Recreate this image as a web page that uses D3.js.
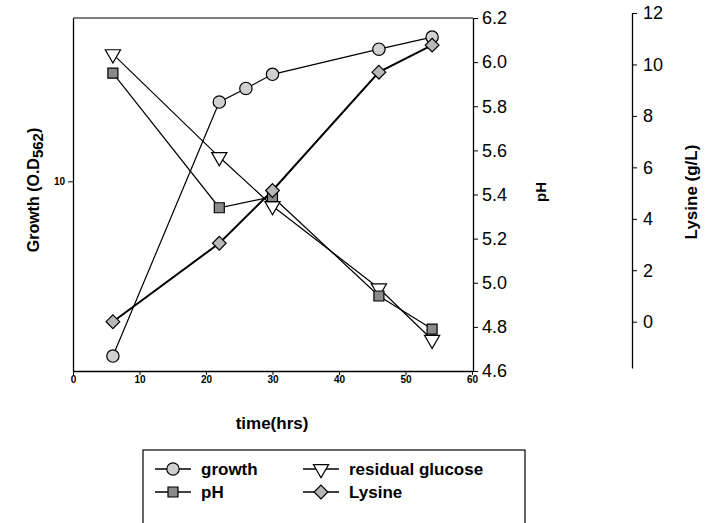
<!DOCTYPE html>
<html><head><meta charset="utf-8">
<script src="https://cdn.jsdelivr.net/npm/d3@7"></script>
<style>
body{margin:0;background:#fff}
text{font-family:"Liberation Sans",Arial,Helvetica,sans-serif;fill:#000}
</style>
</head><body>
<svg id="c" width="705" height="523"></svg>
<script>
// ---- data ----
const growthTime = [6, 22, 26, 30, 46, 54];
const growth     = [2.27, 19.6, 22.0, 24.8, 30.7, 34.0];   // O.D562 (log axis)
const pHTime     = [6, 22, 30, 46, 54];
const pHValues   = [5.95, 5.34, 5.39, 4.94, 4.79];
const glucoseTime= [6, 22, 30, 46, 54];
const glucose    = [10.4, 6.4, 4.5, 1.3, -0.7];             // plotted against g/L axis
const lysineTime = [6, 22, 30, 46, 54];
const lysine     = [0.0, 3.05, 5.1, 9.7, 10.75];            // g/L
const xTicks      = [0, 10, 20, 30, 40, 50, 60];
const growthTicks = [10];
const pHTicks     = [4.6, 4.8, 5.0, 5.2, 5.4, 5.6, 5.8, 6.0, 6.2];
const lysineTicks = [0, 2, 4, 6, 8, 10, 12];
const legendLabels = ["growth", "residual glucose", "pH", "Lysine"];

const svg = d3.select("#c");
const L = 73, R = 473, T = 18, B = 371;

const x   = d3.scaleLinear().domain([0, 60]).range([L, R - 1]);
const yG  = d3.scaleLog().domain([2, 40]).range([B, T]);
const yPH = d3.scaleLinear().domain([4.6, 6.2]).range([B, T]);
const yL  = d3.scaleLinear().domain([-1.8, 12]).range([368, 13]);

// frame top
svg.append("line").attr("x1", L).attr("x2", R).attr("y1", T).attr("y2", T)
  .attr("stroke", "#000").attr("stroke-width", 1.2);

function styleAxis(g, fs, bold) {
  g.selectAll("path").attr("stroke", "#000").attr("stroke-width", 1.3);
  g.selectAll("line").attr("stroke", "#000").attr("stroke-width", 1);
  g.selectAll("text").attr("font-size", fs).attr("font-weight", bold ? "bold" : "normal")
    .attr("fill", "#000").attr("font-family", '"Liberation Sans",Arial,sans-serif');
}

// x axis
const gx = svg.append("g").attr("transform", `translate(0,${B})`)
  .call(d3.axisBottom(x).tickValues(xTicks).tickFormat(d3.format("d")).tickSize(4).tickSizeOuter(0).tickPadding(1));
styleAxis(gx, 10, true);

// left log axis
const gy = svg.append("g").attr("transform", `translate(${L},0)`)
  .call(d3.axisLeft(yG).tickValues(growthTicks).tickFormat(d3.format("d")).tickSize(5).tickSizeOuter(0).tickPadding(3));
styleAxis(gy, 10, true);

// pH axis
const gp = svg.append("g").attr("transform", `translate(${R},0)`)
  .call(d3.axisRight(yPH).tickValues(pHTicks).tickFormat(d3.format(".1f")).tickSize(5).tickSizeOuter(0).tickPadding(4));
styleAxis(gp, 18, false);

// lysine axis
const gl = svg.append("g").attr("transform", `translate(632,0)`)
  .call(d3.axisRight(yL).tickValues(lysineTicks).tickFormat(d3.format("d")).tickSize(5).tickSizeOuter(0).tickPadding(6));
styleAxis(gl, 18, false);

// axis titles
const gt = svg.append("text").attr("transform", "translate(39,190) rotate(-90)")
  .attr("text-anchor", "middle").attr("font-size", 16).attr("font-weight", "bold");
gt.append("tspan").text("Growth (O.D");
gt.append("tspan").attr("dy", 4).attr("font-size", 15).text("562");
gt.append("tspan").attr("dy", -4).text(")");

svg.append("text").attr("transform", "translate(546,192) rotate(-90)")
  .attr("text-anchor", "middle").attr("font-size", 15).attr("font-weight", "bold").text("pH");
svg.append("text").attr("transform", "translate(697,192) rotate(-90)")
  .attr("text-anchor", "middle").attr("font-size", 17).attr("font-weight", "bold").text("Lysine (g/L)");
svg.append("text").attr("x", 272).attr("y", 429)
  .attr("text-anchor", "middle").attr("font-size", 17).attr("font-weight", "bold").text("time(hrs)");

// symbols
const sym = {
  circle:  d3.symbol().type(d3.symbolCircle).size(120),
  square:  d3.symbol().type(d3.symbolSquare).size(100),
  diamond: d3.symbol().type(d3.symbolDiamond2 || d3.symbolDiamond).size(120),
  triangle: d3.symbol().type(d3.symbolTriangle).size(100)
};
const series = [
  {t: growthTime, v: growth, y: yG, s: "circle", fill: "#d0d0d0", rot: 0, w: 1.2},
  {t: glucoseTime, v: glucose, y: yL, s: "triangle", fill: "#fff", rot: 180, w: 1.2},
  {t: pHTime, v: pHValues, y: yPH, s: "square", fill: "#8a8a8a", rot: 0, w: 1.2},
  {t: lysineTime, v: lysine, y: yL, s: "diamond", fill: "#b8b8b8", rot: 0, w: 2}
];
series.forEach(se => {
  const pts = se.t.map((t, i) => [x(t), se.y(se.v[i])]);
  svg.append("path").attr("d", d3.line()(pts)).attr("fill", "none")
    .attr("stroke", "#000").attr("stroke-width", se.w);
});
series.forEach(se => {
  se.t.forEach((t, i) => {
    svg.append("path").attr("d", sym[se.s]())
      .attr("transform", `translate(${x(t)},${se.y(se.v[i])}) rotate(${se.rot})`)
      .attr("fill", se.fill).attr("stroke", "#000").attr("stroke-width", 1.2);
  });
});

// legend
svg.append("rect").attr("x", 143).attr("y", 450).attr("width", 382).attr("height", 90)
  .attr("fill", "none").attr("stroke", "#000").attr("stroke-width", 1.2);
const leg = [
  {label: legendLabels[0], s: series[0], lx: 155, ly: 469},
  {label: legendLabels[1], s: series[1], lx: 303, ly: 469},
  {label: legendLabels[2], s: series[2], lx: 155, ly: 492},
  {label: legendLabels[3], s: series[3], lx: 303, ly: 492}
];
leg.forEach(d => {
  svg.append("line").attr("x1", d.lx).attr("x2", d.lx + 36).attr("y1", d.ly).attr("y2", d.ly)
    .attr("stroke", "#000").attr("stroke-width", 1.5);
  svg.append("path").attr("d", sym[d.s.s]())
    .attr("transform", `translate(${d.lx + 18},${d.ly}) rotate(${d.s.rot})`)
    .attr("fill", d.s.fill).attr("stroke", "#000").attr("stroke-width", 1.2);
  svg.append("text").attr("x", d.lx + 46).attr("y", d.ly + 6)
    .attr("font-size", 17).attr("font-weight", "bold").text(d.label);
});
</script>
</body></html>
